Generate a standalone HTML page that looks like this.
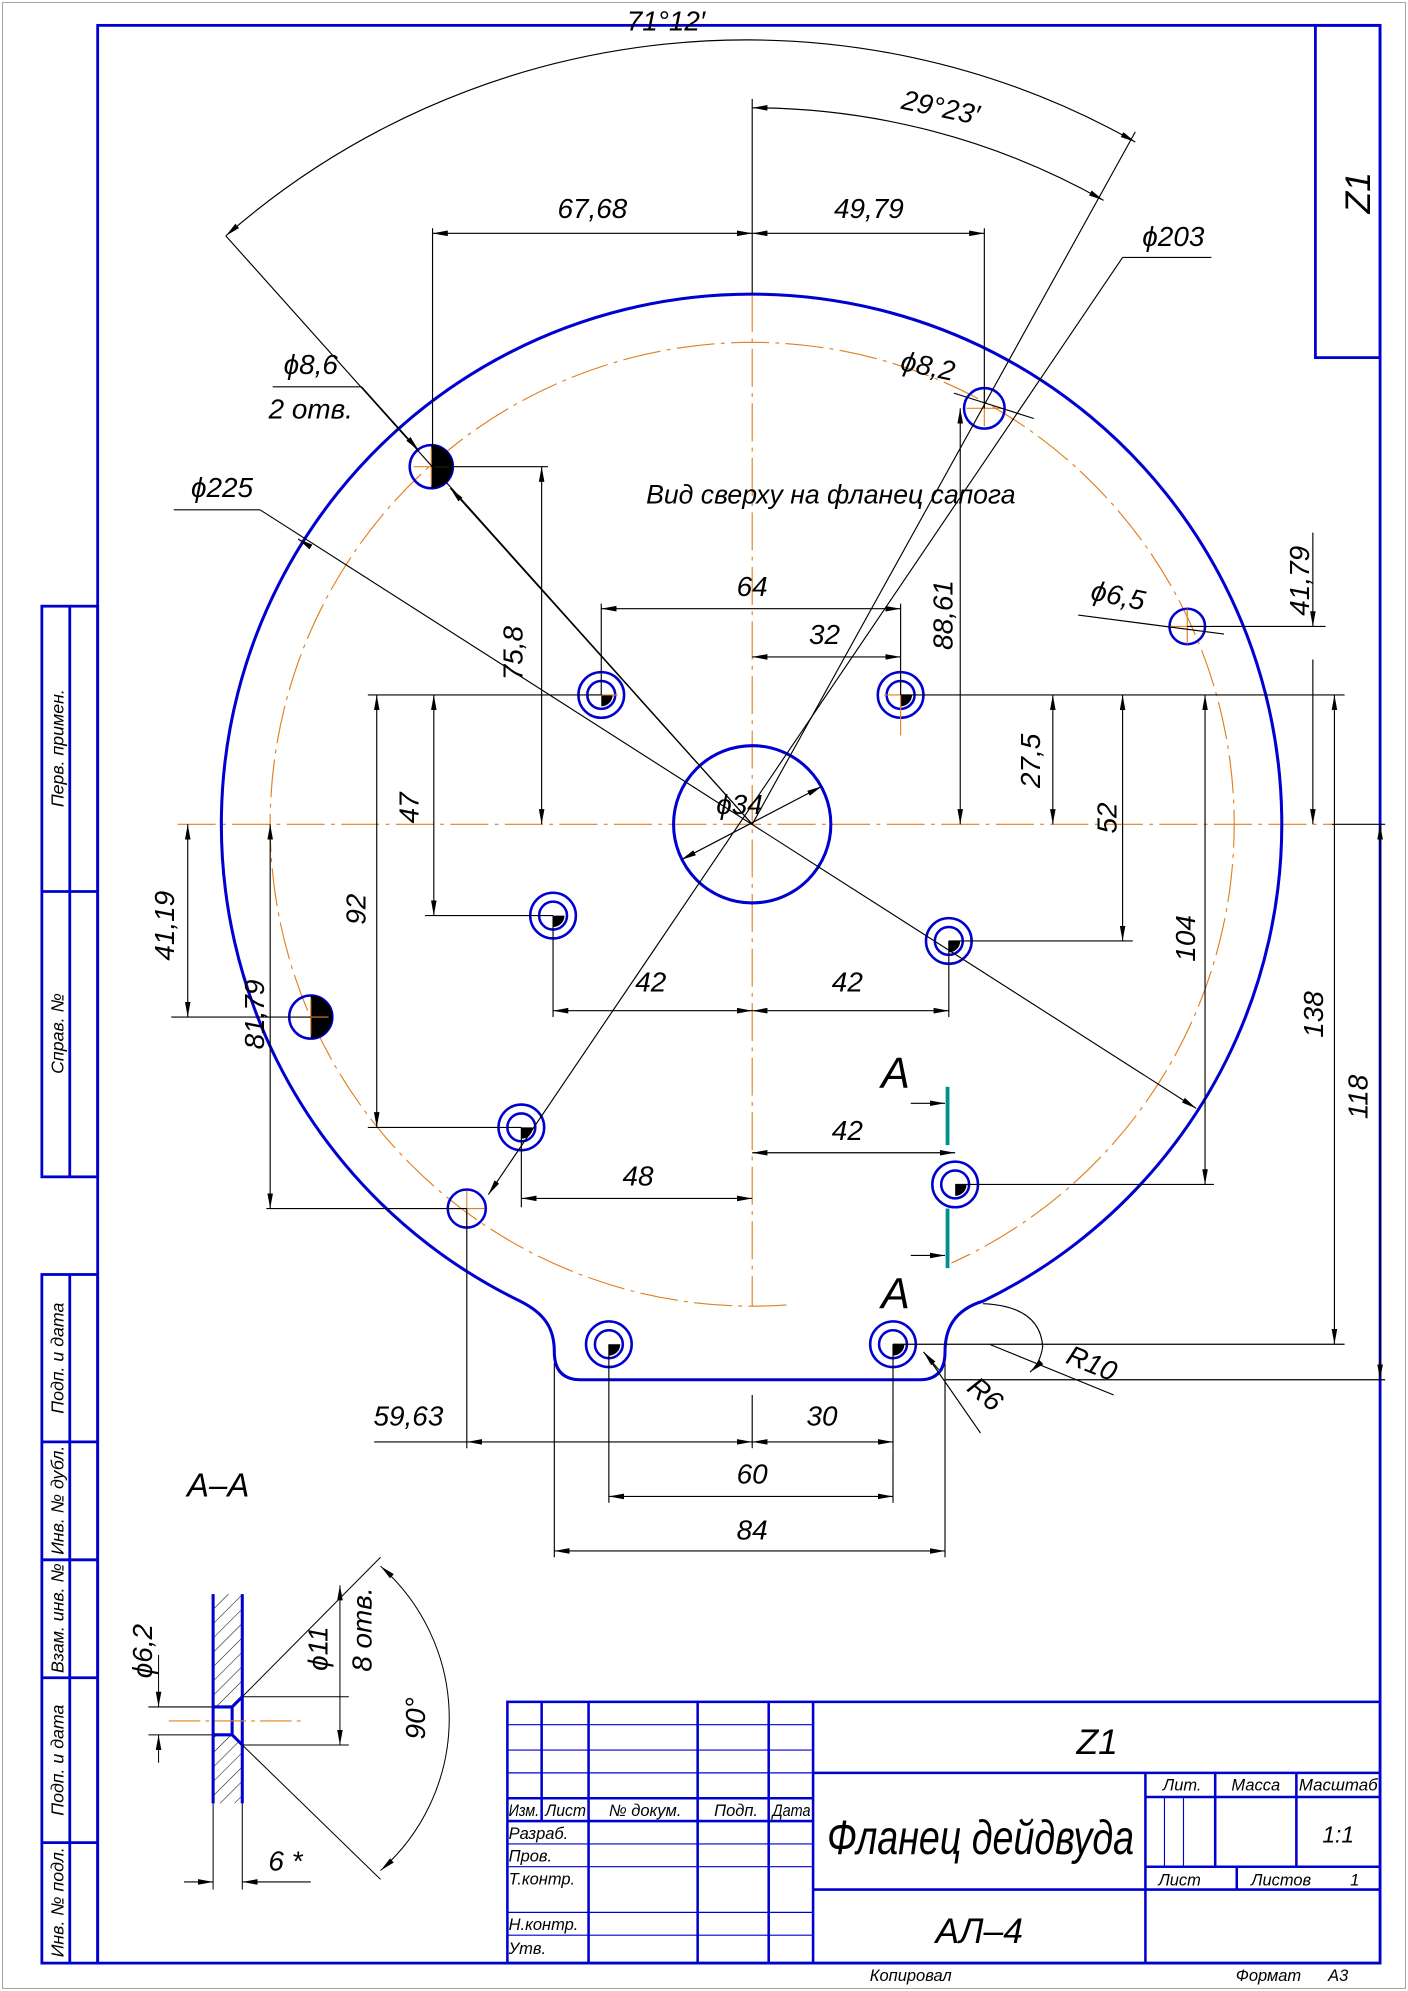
<!DOCTYPE html>
<html><head><meta charset="utf-8"><style>
html,body{margin:0;padding:0;background:#fff}
svg{display:block}
text{font-family:"Liberation Sans",sans-serif;font-style:italic;fill:#000}
</style></head><body>
<svg width="1408" height="1991" viewBox="0 0 1110 1570" preserveAspectRatio="none" xmlns="http://www.w3.org/2000/svg">
<defs>
<marker id="a" viewBox="0 0 12 6" refX="12" refY="3" markerWidth="12" markerHeight="6" markerUnits="userSpaceOnUse" orient="auto-start-reverse"><path d="M0,0.8L12,3L0,5.2z" fill="#000"/></marker>
<pattern id="h" width="8" height="8" patternUnits="userSpaceOnUse" patternTransform="rotate(45)"><line x1="0" y1="0" x2="0" y2="8" stroke="#000" stroke-width="0.8"/></pattern>
</defs>
<rect x="0" y="0" width="1110" height="1570" fill="#fff"/>
<rect x="2" y="2" width="1106" height="1566" fill="none" stroke="#888" stroke-width="0.6"/>
<g stroke="#0000d0" stroke-width="2.2" fill="none">
<rect x="77" y="20" width="1011" height="1528"/>
<rect x="1037" y="20" width="51" height="262"/>
<rect x="33" y="478" width="44" height="450"/>
<line x1="55" y1="478" x2="55" y2="928"/><line x1="33" y1="703" x2="77" y2="703"/>
<rect x="33" y="1005" width="44" height="543"/>
<line x1="55" y1="1005" x2="55" y2="1548"/>
<line x1="33" y1="1137" x2="77" y2="1137"/><line x1="33" y1="1230" x2="77" y2="1230"/><line x1="33" y1="1323" x2="77" y2="1323"/><line x1="33" y1="1453" x2="77" y2="1453"/>
</g>
<g font-size="14">
<text transform="translate(50,590) rotate(-90)" text-anchor="middle">Перв. примен.</text>
<text transform="translate(50,815) rotate(-90)" text-anchor="middle">Справ. №</text>
<text transform="translate(50,1071) rotate(-90)" text-anchor="middle">Подп. и дата</text>
<text transform="translate(50,1183) rotate(-90)" text-anchor="middle">Инв. № дубл.</text>
<text transform="translate(50,1276) rotate(-90)" text-anchor="middle">Взам. инв. №</text>
<text transform="translate(50,1388) rotate(-90)" text-anchor="middle">Подп. и дата</text>
<text transform="translate(50,1500) rotate(-90)" text-anchor="middle">Инв. № подл.</text>
</g>
<text transform="translate(1080,152) rotate(-90)" text-anchor="middle" font-size="28">Z1</text>

<g stroke="#e08020" stroke-width="0.9" fill="none" stroke-dasharray="30,5,3,5">
<path d="M620,1029 A380,380 0 1 1 750,996"/>
<line x1="593" y1="232" x2="593" y2="1030"/>
<line x1="140" y1="650" x2="1050" y2="650"/>
</g>

<g stroke="#0000d0" stroke-width="2.4" fill="none">
<path d="M775,1026 A418,418 0 1 0 410,1026 C430,1036 437,1048 437,1066 Q437,1088 458,1088 L725,1088 Q745,1088 745,1066 C745,1048 752,1033 775,1026 Z"/>
<circle cx="593" cy="650" r="62"/>
</g>

<g stroke="#0000d0" stroke-width="2">
<g fill="none">
<circle cx="474" cy="548" r="11"/><circle cx="474" cy="548" r="18"/>
<circle cx="710" cy="548" r="11"/><circle cx="710" cy="548" r="18"/>
<circle cx="436" cy="722" r="11"/><circle cx="436" cy="722" r="18"/>
<circle cx="748" cy="742" r="11"/><circle cx="748" cy="742" r="18"/>
<circle cx="411" cy="889" r="11"/><circle cx="411" cy="889" r="18"/>
<circle cx="753" cy="934" r="11"/><circle cx="753" cy="934" r="18"/>
<circle cx="480" cy="1060" r="11"/><circle cx="480" cy="1060" r="18"/>
<circle cx="704" cy="1060" r="11"/><circle cx="704" cy="1060" r="18"/>
<circle cx="776" cy="322" r="16"/>
<circle cx="936" cy="494" r="14"/>
<circle cx="368" cy="953" r="15"/>
<circle cx="340" cy="368" r="17"/>
<circle cx="245" cy="802" r="17"/>
</g>
</g>
<g fill="#000">
<path d="M474,548h9a9,9 0 0 1 -9,9z"/><path d="M710,548h9a9,9 0 0 1 -9,9z"/>
<path d="M436,722h9a9,9 0 0 1 -9,9z"/><path d="M748,742h9a9,9 0 0 1 -9,9z"/>
<path d="M411,889h9a9,9 0 0 1 -9,9z"/><path d="M753,934h9a9,9 0 0 1 -9,9z"/>
<path d="M480,1060h9a9,9 0 0 1 -9,9z"/><path d="M704,1060h9a9,9 0 0 1 -9,9z"/>
<path d="M340,351a17,17 0 0 1 0,34z"/><path d="M245,785a17,17 0 0 1 0,34z"/>
</g>
<g stroke="#e08020" stroke-width="0.9">
<path d="M326,368h28M340,354v28M231,802h28M245,788v28M354,953h28M368,939v28M762,322h28M776,308v28M922,494h28M936,480v28M697,548h26M710,535v45M461,548h26"/>
</g>

<g stroke="#000" stroke-width="0.9" fill="none">
<line x1="593" y1="78" x2="593" y2="232"/>
<line x1="593" y1="1100" x2="593" y2="1142"/>
<path d="M178,186 A623,623 0 0 1 895,112" marker-start="url(#a)" marker-end="url(#a)"/>
<path d="M593,85 A565,565 0 0 1 870,158" marker-start="url(#a)" marker-end="url(#a)"/>
<line x1="178" y1="186" x2="593" y2="650"/>
<line x1="593" y1="650" x2="895" y2="104"/>
<line x1="341" y1="180" x2="341" y2="368"/><line x1="776" y1="180" x2="776" y2="322"/>
<line x1="341" y1="184" x2="593" y2="184" marker-start="url(#a)" marker-end="url(#a)"/>
<line x1="593" y1="184" x2="776" y2="184" marker-start="url(#a)" marker-end="url(#a)"/>
<line x1="955" y1="203" x2="885" y2="203"/><line x1="885" y1="203" x2="385" y2="942" marker-end="url(#a)"/>
<line x1="137" y1="402" x2="205" y2="402"/><line x1="205" y1="402" x2="943" y2="874" marker-end="url(#a)"/>
<line x1="235" y1="425" x2="243" y2="430" marker-start="url(#a)"/>
<line x1="537" y1="678" x2="648" y2="620" marker-start="url(#a)" marker-end="url(#a)"/>
<line x1="215" y1="305" x2="285" y2="305"/><line x1="285" y1="305" x2="330" y2="355" marker-end="url(#a)"/>
<line x1="355" y1="385" x2="593" y2="650" marker-start="url(#a)"/>
<line x1="752" y1="310" x2="815" y2="330"/>
<line x1="850" y1="485" x2="965" y2="500"/>
<line x1="474" y1="476" x2="474" y2="548"/><line x1="710" y1="476" x2="710" y2="548"/>
<line x1="474" y1="480" x2="710" y2="480" marker-start="url(#a)" marker-end="url(#a)"/>
<line x1="593" y1="518" x2="710" y2="518" marker-start="url(#a)" marker-end="url(#a)"/>
<line x1="340" y1="368" x2="432" y2="368"/>
<line x1="427" y1="368" x2="427" y2="650" marker-start="url(#a)" marker-end="url(#a)"/>
<line x1="757" y1="322" x2="757" y2="650" marker-start="url(#a)" marker-end="url(#a)"/>
<line x1="936" y1="494" x2="1045" y2="494"/>
<line x1="1035" y1="420" x2="1035" y2="494" marker-end="url(#a)"/>
<line x1="1035" y1="520" x2="1035" y2="650" marker-end="url(#a)"/>
<line x1="710" y1="548" x2="1060" y2="548"/>
<line x1="830" y1="548" x2="830" y2="650" marker-start="url(#a)" marker-end="url(#a)"/>
<line x1="748" y1="742" x2="893" y2="742"/>
<line x1="885" y1="548" x2="885" y2="742" marker-start="url(#a)" marker-end="url(#a)"/>
<line x1="753" y1="934" x2="957" y2="934"/>
<line x1="950" y1="548" x2="950" y2="934" marker-start="url(#a)" marker-end="url(#a)"/>
<line x1="704" y1="1060" x2="1060" y2="1060"/>
<line x1="1052" y1="548" x2="1052" y2="1060" marker-start="url(#a)" marker-end="url(#a)"/>
<line x1="1050" y1="650" x2="1092" y2="650"/>
<line x1="745" y1="1088" x2="1092" y2="1088"/>
<line x1="1088" y1="650" x2="1088" y2="1088" marker-start="url(#a)" marker-end="url(#a)"/>
<line x1="290" y1="548" x2="474" y2="548"/>
<line x1="335" y1="722" x2="436" y2="722"/>
<line x1="342" y1="548" x2="342" y2="722" marker-start="url(#a)" marker-end="url(#a)"/>
<line x1="290" y1="889" x2="411" y2="889"/>
<line x1="297" y1="548" x2="297" y2="889" marker-start="url(#a)" marker-end="url(#a)"/>
<line x1="135" y1="802" x2="245" y2="802"/>
<line x1="148" y1="650" x2="148" y2="802" marker-start="url(#a)" marker-end="url(#a)"/>
<line x1="210" y1="953" x2="368" y2="953"/>
<line x1="213" y1="650" x2="213" y2="953" marker-start="url(#a)" marker-end="url(#a)"/>
<line x1="436" y1="722" x2="436" y2="802"/><line x1="748" y1="742" x2="748" y2="802"/>
<line x1="436" y1="797" x2="593" y2="797" marker-start="url(#a)" marker-end="url(#a)"/>
<line x1="593" y1="797" x2="748" y2="797" marker-start="url(#a)" marker-end="url(#a)"/>
<line x1="593" y1="909" x2="753" y2="909" marker-start="url(#a)" marker-end="url(#a)"/>
<line x1="411" y1="889" x2="411" y2="952"/>
<line x1="411" y1="945" x2="593" y2="945" marker-start="url(#a)" marker-end="url(#a)"/>
<line x1="368" y1="953" x2="368" y2="1142"/>
<line x1="295" y1="1137" x2="368" y2="1137"/>
<line x1="368" y1="1137" x2="593" y2="1137" marker-start="url(#a)" marker-end="url(#a)"/>
<line x1="704" y1="1060" x2="704" y2="1142"/>
<line x1="593" y1="1137" x2="704" y2="1137" marker-start="url(#a)" marker-end="url(#a)"/>
<line x1="480" y1="1060" x2="480" y2="1185"/>
<line x1="480" y1="1180" x2="704" y2="1180" marker-start="url(#a)" marker-end="url(#a)"/>
<line x1="704" y1="1142" x2="704" y2="1185"/>
<line x1="437" y1="1075" x2="437" y2="1228"/><line x1="745" y1="1075" x2="745" y2="1228"/>
<line x1="437" y1="1223" x2="745" y2="1223" marker-start="url(#a)" marker-end="url(#a)"/>
<path d="M775,1028 Q820,1030 822,1062 Q820,1075 812,1082" marker-end="url(#a)"/>
<line x1="780" y1="1060" x2="878" y2="1100"/>
<line x1="730" y1="1068" x2="773" y2="1130"/><line x1="728" y1="1066" x2="740" y2="1080" marker-start="url(#a)"/>
<line x1="718" y1="870" x2="745" y2="870" marker-end="url(#a)"/>
<line x1="718" y1="990" x2="745" y2="990" marker-end="url(#a)"/>
</g>
<g stroke="#009090" stroke-width="3"><line x1="747" y1="857" x2="747" y2="903"/><line x1="747" y1="953" x2="747" y2="1000"/></g>

<g font-size="22">
<text x="525" y="24" text-anchor="middle">71°12′</text>
<text x="740" y="92" text-anchor="middle" transform="rotate(12 740 92)">29°23′</text>
<text x="467" y="172" text-anchor="middle">67,68</text>
<text x="685" y="172" text-anchor="middle">49,79</text>
<text x="925" y="194" text-anchor="middle">ϕ203</text>
<text x="245" y="295" text-anchor="middle">ϕ8,6</text>
<text x="245" y="330" text-anchor="middle">2 отв.</text>
<text x="730" y="296" text-anchor="middle" transform="rotate(12 730 296)">ϕ8,2</text>
<text x="175" y="392" text-anchor="middle">ϕ225</text>
<text x="655" y="397" text-anchor="middle" font-size="21">Вид сверху на фланец сапога</text>
<text x="593" y="470" text-anchor="middle">64</text>
<text x="650" y="508" text-anchor="middle">32</text>
<text x="880" y="477" text-anchor="middle" transform="rotate(12 880 477)">ϕ6,5</text>
<text x="583" y="642" text-anchor="middle">ϕ34</text>
<text x="513" y="782" text-anchor="middle">42</text>
<text x="668" y="782" text-anchor="middle">42</text>
<text x="668" y="899" text-anchor="middle">42</text>
<text x="503" y="935" text-anchor="middle">48</text>
<text x="322" y="1124" text-anchor="middle">59,63</text>
<text x="648" y="1124" text-anchor="middle">30</text>
<text x="593" y="1170" text-anchor="middle">60</text>
<text x="593" y="1214" text-anchor="middle">84</text>
<text transform="translate(412,515) rotate(-90)" text-anchor="middle">75,8</text>
<text transform="translate(751,485) rotate(-90)" text-anchor="middle">88,61</text>
<text transform="translate(1032,458) rotate(-90)" text-anchor="middle">41,79</text>
<text transform="translate(820,600) rotate(-90)" text-anchor="middle">27,5</text>
<text transform="translate(880,645) rotate(-90)" text-anchor="middle">52</text>
<text transform="translate(942,740) rotate(-90)" text-anchor="middle">104</text>
<text transform="translate(1043,800) rotate(-90)" text-anchor="middle">138</text>
<text transform="translate(1078,865) rotate(-90)" text-anchor="middle">118</text>
<text transform="translate(330,637) rotate(-90)" text-anchor="middle">47</text>
<text transform="translate(288,717) rotate(-90)" text-anchor="middle">92</text>
<text transform="translate(137,730) rotate(-90)" text-anchor="middle">41,19</text>
<text transform="translate(208,800) rotate(-90)" text-anchor="middle">81,79</text>
<text x="858" y="1082" text-anchor="middle" transform="rotate(22 858 1082)">R10</text>
<text x="772" y="1105" text-anchor="middle" transform="rotate(40 772 1105)">R6</text>
</g>
<text x="706" y="858" text-anchor="middle" font-size="34" font-style="normal">A</text>
<text x="706" y="1032" text-anchor="middle" font-size="34" font-style="normal">A</text>

<text x="172" y="1180" text-anchor="middle" font-size="26">A–A</text>
<g>
<rect x="168" y="1257" width="23" height="165" fill="url(#h)"/>
<rect x="168" y="1346" width="15" height="22" fill="#fff"/>
<path d="M183,1346 L191,1338 L191,1376 L183,1368z" fill="#fff"/>
<g stroke="#0000d0" stroke-width="2.4" fill="none">
<line x1="168" y1="1257" x2="168" y2="1422"/><line x1="191" y1="1257" x2="191" y2="1422"/>
<path d="M168,1346 H183 L191,1338 M168,1368 H183 L191,1376 M183,1346 V1368"/>
</g>
<line x1="133" y1="1357" x2="240" y2="1357" stroke="#e08020" stroke-width="0.9" stroke-dasharray="25,4,3,4"/>
<g stroke="#000" stroke-width="0.8" fill="none">
<line x1="117" y1="1346" x2="168" y2="1346"/><line x1="117" y1="1368" x2="168" y2="1368"/>
<line x1="125" y1="1305" x2="125" y2="1346" marker-end="url(#a)"/><line x1="125" y1="1390" x2="125" y2="1368" marker-end="url(#a)"/>
<line x1="191" y1="1338" x2="275" y2="1338"/><line x1="191" y1="1376" x2="275" y2="1376"/>
<line x1="268" y1="1250" x2="268" y2="1376" marker-start="url(#a)" marker-end="url(#a)"/>
<line x1="191" y1="1338" x2="300" y2="1228"/><line x1="191" y1="1376" x2="300" y2="1482"/>
<path d="M300,1235 A160,160 0 0 1 300,1475" marker-start="url(#a)" marker-end="url(#a)"/>
<line x1="168" y1="1422" x2="168" y2="1490"/><line x1="191" y1="1422" x2="191" y2="1490"/>
<line x1="145" y1="1484" x2="168" y2="1484" marker-end="url(#a)"/>
<line x1="245" y1="1484" x2="191" y2="1484" marker-end="url(#a)"/>
</g>
<g font-size="22">
<text transform="translate(120,1302) rotate(-90)" text-anchor="middle">ϕ6,2</text>
<text transform="translate(258,1300) rotate(-90)" text-anchor="middle">ϕ11</text>
<text transform="translate(293,1285) rotate(-90)" text-anchor="middle">8 отв.</text>
<text transform="translate(335,1355) rotate(-90)" text-anchor="middle">90°</text>
<text x="225" y="1475" text-anchor="middle">6 *</text>
</g>
</g>

<g stroke="#0000d0" stroke-width="2" fill="none">
<rect x="400" y="1342" width="688" height="206"/>
<line x1="427" y1="1342" x2="427" y2="1436"/>
<line x1="464" y1="1342" x2="464" y2="1548"/>
<line x1="550" y1="1342" x2="550" y2="1548"/>
<line x1="606" y1="1342" x2="606" y2="1548"/>
<line x1="641" y1="1342" x2="641" y2="1548"/>
<line x1="400" y1="1418" x2="641" y2="1418"/>
<line x1="400" y1="1436" x2="641" y2="1436"/>
<line x1="641" y1="1398" x2="1088" y2="1398"/>
<line x1="641" y1="1490" x2="1088" y2="1490"/>
<line x1="903" y1="1398" x2="903" y2="1548"/>
<line x1="958" y1="1398" x2="958" y2="1472"/>
<line x1="1022" y1="1398" x2="1022" y2="1472"/>
<line x1="903" y1="1417" x2="1088" y2="1417"/>
<line x1="903" y1="1472" x2="1088" y2="1472"/>
<line x1="975" y1="1472" x2="975" y2="1490"/>
</g>
<g stroke="#0000d0" stroke-width="0.9" fill="none">
<path d="M400,1360H641M400,1380H641M400,1398H641M400,1454H641M400,1472H641M400,1508H641M400,1526H641M918,1417V1472M933,1417V1472"/>
</g>
<g font-size="13">
<text x="401" y="1432" textLength="24" lengthAdjust="spacingAndGlyphs">Изм.</text><text x="430" y="1432" textLength="32" lengthAdjust="spacingAndGlyphs">Лист</text><text x="480" y="1432">№ докум.</text><text x="563" y="1432">Подп.</text><text x="609" y="1432" textLength="30" lengthAdjust="spacingAndGlyphs">Дата</text>
<text x="401" y="1450">Разраб.</text><text x="401" y="1468">Пров.</text><text x="401" y="1486">Т.контр.</text>
<text x="401" y="1522">Н.контр.</text><text x="401" y="1541">Утв.</text>
<text x="932" y="1412" text-anchor="middle">Лит.</text><text x="990" y="1412" text-anchor="middle">Масса</text><text x="1055" y="1412" text-anchor="middle" textLength="62" lengthAdjust="spacingAndGlyphs">Масштаб</text>
<text x="930" y="1487" text-anchor="middle">Лист</text><text x="1010" y="1487" text-anchor="middle">Листов</text><text x="1068" y="1487" text-anchor="middle">1</text>
<text x="718" y="1562" text-anchor="middle">Копировал</text><text x="1000" y="1562" text-anchor="middle">Формат</text><text x="1055" y="1562" text-anchor="middle">A3</text>
</g>
<text x="865" y="1383" text-anchor="middle" font-size="28">Z1</text>
<text x="652" y="1462" font-size="38" textLength="242" lengthAdjust="spacingAndGlyphs">Фланец дейдвуда</text>
<text x="772" y="1532" text-anchor="middle" font-size="28">АЛ–4</text>
<text x="1055" y="1453" text-anchor="middle" font-size="18">1:1</text>
</svg>
</body></html>
